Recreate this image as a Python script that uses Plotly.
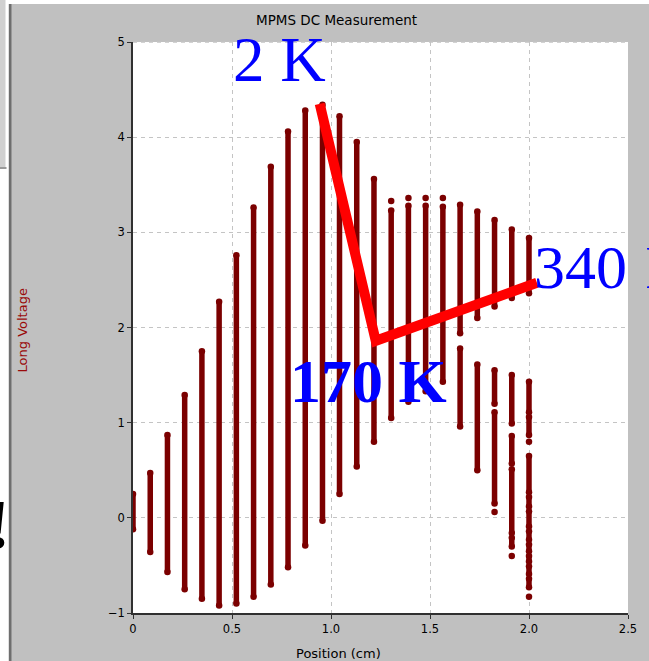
import plotly.graph_objects as go

# Scan positions (cm) of the 24 voltage columns
positions = [0.000, 0.087, 0.174, 0.261, 0.348, 0.435, 0.522, 0.609,
             0.696, 0.783, 0.870, 0.957, 1.043, 1.130, 1.217, 1.304,
             1.391, 1.478, 1.565, 1.652, 1.739, 1.826, 1.913, 2.000]

# Each column: list of (low, high) runs of the long voltage readings (V)
columns = [
    [(-0.12, 0.25)],
    [(-0.36, 0.47)],
    [(-0.57, 0.87)],
    [(-0.75, 1.29)],
    [(-0.85, 1.75)],
    [(-0.92, 2.27)],
    [(-0.90, 2.76)],
    [(-0.83, 3.26)],
    [(-0.70, 3.69)],
    [(-0.52, 4.06)],
    [(-0.29, 4.28)],
    [(-0.03, 4.34)],
    [(0.25, 4.22)],
    [(0.54, 3.95)],
    [(0.80, 3.56)],
    [(1.05, 3.23), (3.33, 3.33)],
    [(1.22, 3.28), (3.36, 3.36)],
    [(1.33, 3.28), (3.36, 3.36)],
    [(1.43, 3.27), (3.36, 3.36)],
    [(1.94, 3.29), (0.96, 1.78)],
    [(2.10, 3.22), (0.50, 1.61)],
    [(2.22, 3.13), (1.20, 1.55), (0.15, 1.11), (0.06, 0.06)],
    [(2.31, 3.03), (0.99, 1.50), (0.57, 0.86), (-0.16, 0.51),
     (-0.30, -0.21), (-0.40, -0.40)],
    [(2.36, 2.94), (1.11, 1.43), (0.87, 1.06), (0.80, 0.80), (0.27, 0.65),
     (0.12, 0.22), (-0.09, 0.07), (-0.23, -0.14), (-0.35, -0.28),
     (-0.46, -0.40), (-0.59, -0.51), (-0.73, -0.64), (-0.83, -0.83)],
]

# Guide line through the 2 K -> 170 K -> 340 K centre positions
guide_x = [0.943, 1.226, 2.040]
guide_y = [4.35, 1.86, 2.47]

x_ticks = [0, 0.5, 1.0, 1.5, 2.0, 2.5]
x_tick_text = ["0", "0.5", "1.0", "1.5", "2.0", "2.5"]
y_ticks = [-1, 0, 1, 2, 3, 4, 5]

# Flatten the runs into one trace, separated by gaps
xs, ys = [], []
for pos, runs in zip(positions, columns):
    for lo, hi in runs:
        if lo == hi:
            xs += [pos, None]
            ys += [lo, None]
        else:
            xs += [pos, pos, None]
            ys += [lo, hi, None]

DARK_RED = "#7b0000"
W, H = 649, 661
L, R, T, B = 133, 19, 42, 48
PW, PH = W - L - R, H - T - B


def px(xp):
    return (xp - L) / PW


def py(yp):
    return (H - B - yp) / PH


fig = go.Figure()
fig.add_trace(go.Scatter(
    x=xs, y=ys, mode="lines+markers",
    line=dict(color=DARK_RED, width=5.5),
    marker=dict(color=DARK_RED, size=6.5),
    connectgaps=False, hoverinfo="skip", showlegend=False,
))
fig.add_trace(go.Scatter(
    x=guide_x, y=guide_y, mode="lines",
    line=dict(color="#ff0000", width=10),
    hoverinfo="skip", showlegend=False,
))

UI_FONT = "DejaVu Sans, Verdana, sans-serif"
axis_common = dict(
    showline=True, linecolor="#303030", linewidth=1.5,
    ticks="outside", ticklen=4, tickwidth=1, tickcolor="#303030",
    showgrid=True, gridcolor="#c4c4c4", gridwidth=1, griddash="4px,4px",
    zeroline=False, mirror=False,
    tickfont=dict(family=UI_FONT, size=11.5, color="#000000"),
)

fig.update_xaxes(range=[0, 2.5], tickvals=x_ticks, ticktext=x_tick_text,
                 **axis_common)
fig.update_yaxes(range=[-1, 5], tickvals=y_ticks, **axis_common)

shapes = [
    # top white strip
    dict(type="rect", xref="paper", yref="paper", x0=px(-20), x1=px(700),
         y0=py(4), y1=py(-20), fillcolor="#ffffff", line_width=0),
    # left white strip with the window frame edge
    dict(type="rect", xref="paper", yref="paper", x0=px(-20), x1=px(8),
         y0=py(700), y1=py(4), fillcolor="#ffffff", line_width=0),
    dict(type="rect", xref="paper", yref="paper", x0=px(-20), x1=px(5),
         y0=py(167), y1=py(0), fillcolor="#d0d0d0", line_width=0),
    dict(type="rect", xref="paper", yref="paper", x0=px(-20), x1=px(6),
         y0=py(169), y1=py(167), fillcolor="#9a9a9a", line_width=0),
    dict(type="rect", xref="paper", yref="paper", x0=px(8.5), x1=px(11),
         y0=py(700), y1=py(4), fillcolor="#6e6e6e", line_width=0),
    # dashed top border of the plot frame
    dict(type="line", xref="paper", yref="paper", x0=0, x1=1, y0=1, y1=1,
         line=dict(color="#c4c4c4", width=1.5, dash="4px,4px")),
]

serif = "Liberation Serif, Times New Roman, serif"
annotations = [
    dict(text="MPMS DC Measurement", x=px(337), y=py(20),
         font=dict(family=UI_FONT, size=13.5, color="#000000")),
    dict(text="Position (cm)", x=px(339), y=py(653),
         font=dict(family=UI_FONT, size=13, color="#000000")),
    dict(text="Long Voltage", x=px(22), y=py(330), textangle=-90,
         font=dict(family=UI_FONT, size=13, color="#9a0a0a")),
    dict(text="2 K", x=px(231), y=py(60), xanchor="left",
         font=dict(family=serif, size=63, color="#0000ff")),
    dict(text="340<span style='font-size:73px'> </span>K", x=px(534),
         y=py(263), xanchor="left",
         font=dict(family=serif, size=62, color="#0000ff")),
    dict(text="<b>170 K</b>", x=px(289), y=py(381), xanchor="left",
         font=dict(family=serif, size=62, color="#0000ff")),
    dict(text="<b>!</b>", x=px(12), y=py(524), xanchor="right",
         font=dict(family=serif, size=70, color="#000000")),
]
for a in annotations:
    a.update(xref="paper", yref="paper", showarrow=False)
    a.setdefault("xanchor", "center")
    a.setdefault("yanchor", "middle")

fig.update_layout(
    width=W, height=H,
    margin=dict(l=L, r=R, t=T, b=B),
    paper_bgcolor="#c0c0c0", plot_bgcolor="#ffffff",
    shapes=shapes, annotations=annotations,
    showlegend=False,
)

fig.write_html("out.html")
